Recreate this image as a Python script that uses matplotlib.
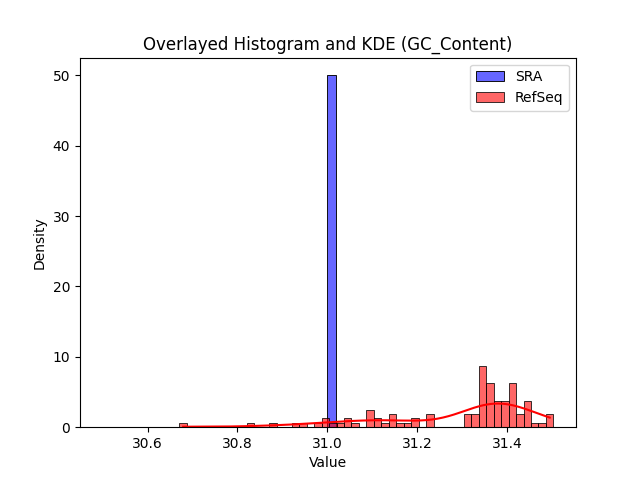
import numpy as np
import matplotlib
matplotlib.use("Agg")
from matplotlib import pyplot as plt
import seaborn as sns

# SRA: every sample has the same GC content
sra_value = 31.0
sra_n = 100

# RefSeq: counts per bin (50 bins)
refseq_range = (30.671, 31.503)
refseq_counts = [
    1, 0, 0, 0, 0, 0, 0, 0, 0, 1,
    0, 0, 1, 0, 0, 1, 1, 0, 1, 2,
    1, 1, 2, 1, 0, 4, 2, 1, 3, 1,
    1, 2, 0, 3, 0, 0, 0, 0, 3, 3,
    14, 10, 6, 6, 10, 3, 6, 1, 1, 3,
]


def main():
    sra = np.full(sra_n, sra_value)

    # rebuild samples at the bin centers
    edges = np.linspace(refseq_range[0], refseq_range[1], len(refseq_counts) + 1)
    centers = (edges[:-1] + edges[1:]) / 2
    refseq = np.repeat(centers, refseq_counts)

    fig, ax = plt.subplots(figsize=(6.4, 4.8), dpi=100)
    sns.histplot(sra, bins=50, binrange=(sra_value - 0.5, sra_value + 0.5),
                 stat="density", kde=True, color="blue", alpha=0.6,
                 label="SRA", ax=ax)
    sns.histplot(refseq, bins=50, binrange=refseq_range,
                 stat="density", kde=True, color="red", alpha=0.6,
                 label="RefSeq", ax=ax)

    ax.set_title("Overlayed Histogram and KDE (GC_Content)")
    ax.set_xlabel("Value")
    ax.set_ylabel("Density")
    ax.legend()
    fig.savefig("out.png")
    plt.close(fig)


if __name__ == "__main__":
    main()
